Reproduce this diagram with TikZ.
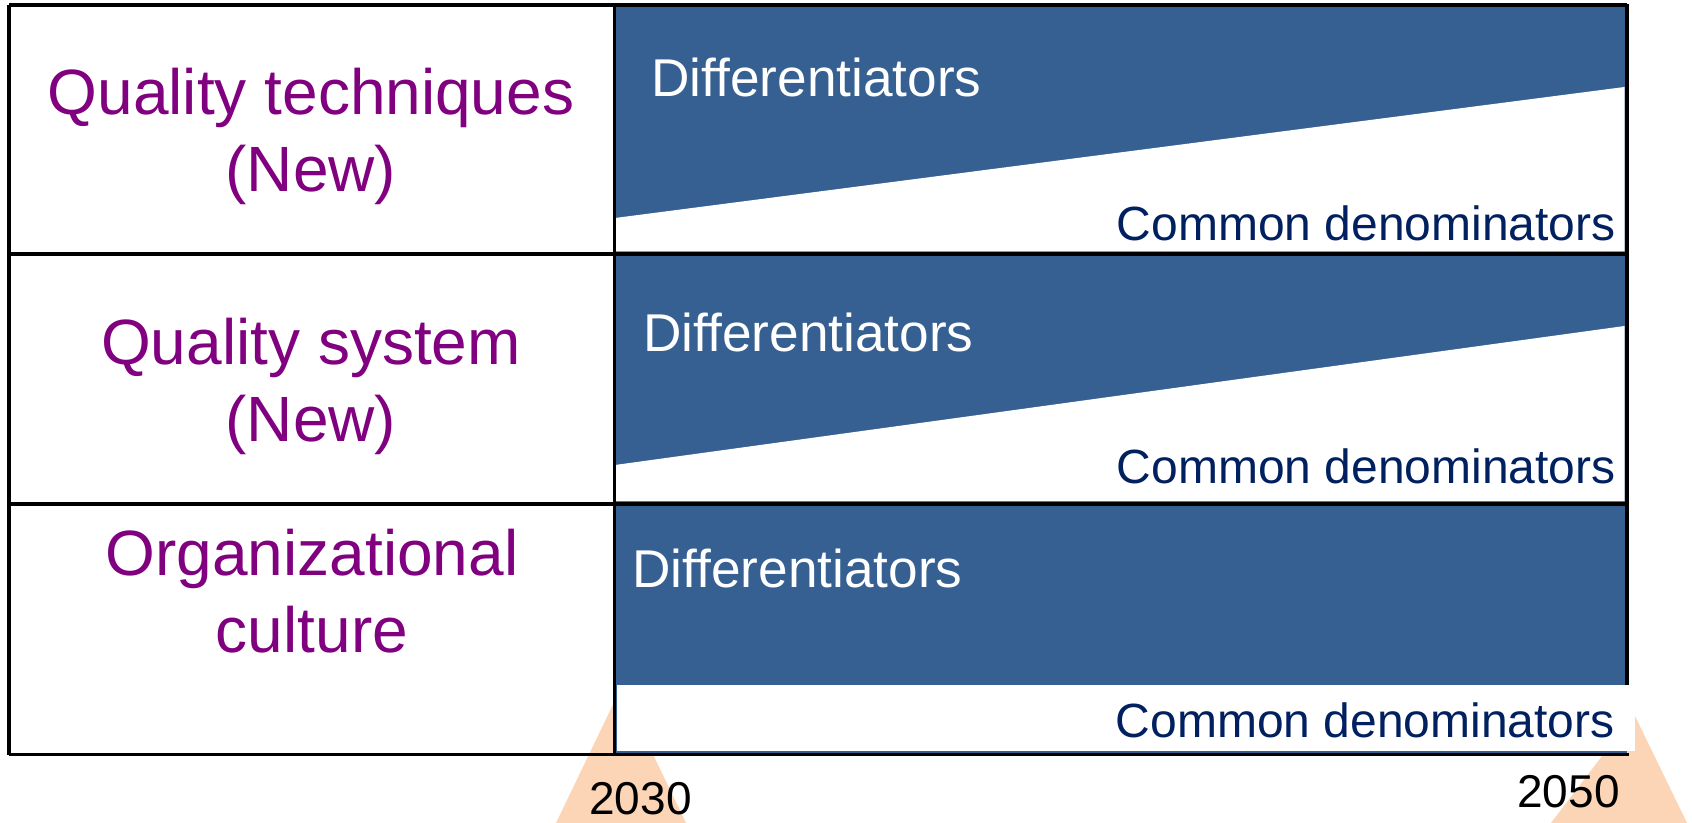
\documentclass[tikz,border=0pt]{standalone}
\usepackage{fontspec}
\setmainfont{Liberation Sans}
\definecolor{cellblue}{RGB}{55,96,146}
\definecolor{labelpurple}{RGB}{128,0,128}
\definecolor{cdnavy}{RGB}{0,32,96}
\definecolor{peach}{RGB}{251,213,181}
\begin{document}
\begin{tikzpicture}[x=0.5pt,y=-0.5pt,
  frameline/.style={line width=1.8pt,black},
  bluecell/.style={fill=cellblue,draw=none},
  whitecut/.style={fill=white,draw=none},
  marker/.style={fill=peach,draw=none},
  lefttext/.style={text=labelpurple,font=\fontsize{32}{38.5}\selectfont,align=center,inner sep=0pt,anchor=base},
  difftext/.style={text=white,font=\fontsize{26.6}{31}\selectfont,inner sep=0pt,anchor=base west},
  commontext/.style={text=cdnavy,font=\fontsize{24}{29}\selectfont,inner sep=0pt,anchor=base east},
  yeartext/.style={text=black,font=\fontsize{23}{28}\selectfont,inner sep=0pt,anchor=base}]
\useasboundingbox (0,0) rectangle (1692,823);
\fill[white] (0,0) rectangle (1692,823);
% year markers
\fill[marker] (621,688) -- (686,823) -- (556,823) -- cycle;
\fill[marker] (1634,714) -- (1687,823) -- (1551,823) -- cycle;
% blue cells
\fill[bluecell] (614,5) rectangle (1627,254);
\fill[bluecell] (614,254) rectangle (1627,504);
\fill[bluecell] (614,504) rectangle (1627,754);
% white cut-outs
\fill[whitecut] (615,218) -- (1624.5,87) -- (1624.5,251.5) -- (615,251.5) -- cycle;
\fill[whitecut] (615,465) -- (1624.5,326) -- (1624.5,501) -- (615,501) -- cycle;
% frame lines
\draw[frameline] (9,5) -- (1627,5);
\draw[frameline] (9,5) -- (9,754.5);
\draw[frameline] (9,754.5) -- (1628.5,754.5);
\draw[frameline] (9,254) -- (1627,254);
\draw[frameline] (9,504) -- (1627,504);
\draw[frameline] (614.3,5) -- (614.3,754.5);
\draw[frameline] (1627,4.2) -- (1627,686);
% bottom white box of third row
\fill[whitecut] (616.5,685) rectangle (1635,751);
% texts
\node[lefttext] (q1) at (311,192) {Quality techniques\\(New)};
\node[lefttext] (q2) at (311,442) {Quality system\\(New)};
\node[lefttext] (q3) at (312,652) {Organizational\\culture};
\node[difftext] (d1) at (651,97) {Differentiators};
\node[difftext] (d2) at (643,352) {Differentiators};
\node[difftext] (d3) at (632,587) {Differentiators};
\node[commontext] (c1) at (1616,241) {Common denominators};
\node[commontext] (c2) at (1616,483) {Common denominators};
\node[commontext] (c3) at (1615,737) {Common denominators};
\node[yeartext] (y1) at (640.5,814) {2030};
\node[yeartext] (y2) at (1568.5,807) {2050};
\end{tikzpicture}
\end{document}
